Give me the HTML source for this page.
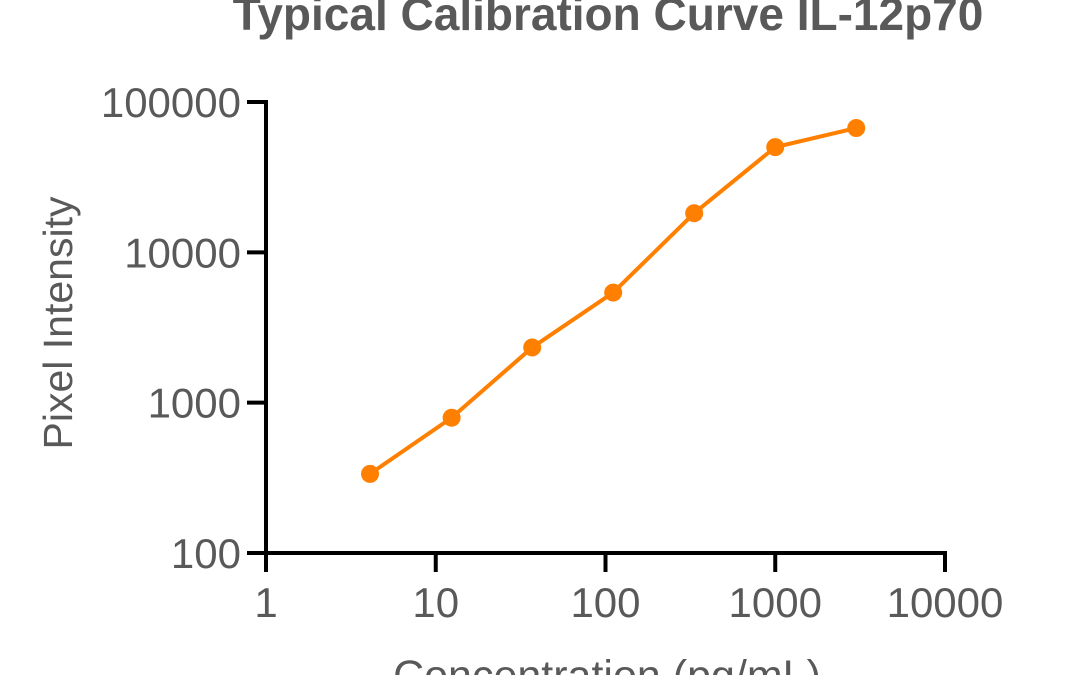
<!DOCTYPE html>
<html><head><meta charset="utf-8"><style>
body{margin:0;background:#fff;}
svg{display:block;font-family:"Liberation Sans",Arial,sans-serif;}
</style></head><body>
<svg id="chart" width="1080" height="675" viewBox="0 0 1080 675">
<text x="608" y="30" text-anchor="middle" font-size="46" font-weight="bold" fill="#595959">Typical Calibration Curve IL-12p70</text>
<text transform="translate(72,323) rotate(-90)" text-anchor="middle" font-size="41" fill="#595959">Pixel Intensity</text>
<text x="607" y="690" text-anchor="middle" font-size="43" fill="#595959">Concentration (pg/mL)</text>
<g id="axes"></g>
<g id="marks"></g>
</svg>
<script>
const concentrations=[4.1,12.4,37,111,333,1000,3000];
const intensities=[336,794,2330,5400,18200,50100,67100];
const xTickValues=[1,10,100,1000,10000];
const xTickLabels=["1","10","100","1000","10000"];
const yTickValues=[100,1000,10000,100000];
const yTickLabels=["100","1000","10000","100000"];
const NS="http://www.w3.org/2000/svg";
const X0=266,X1=945,Y0=553,Y1=102;
function xs(v){return X0+(Math.log10(v)-0)/4*(X1-X0);}
function ys(v){return Y0-(Math.log10(v)-2)/3*(Y0-Y1);}
function mk(t,a,p){const e=document.createElementNS(NS,t);for(const k in a)e.setAttribute(k,a[k]);p.appendChild(e);return e;}
const ax=document.getElementById('axes'),mg=document.getElementById('marks');
let l=mk('line',{x1:X0,y1:Y0,x2:X1+2,y2:Y0,stroke:'#000','stroke-width':4},ax);


l=mk('line',{x1:X0,y1:Y0+2,x2:X0,y2:Y1-2,stroke:'#000','stroke-width':4},ax);


xTickValues.forEach((v,i)=>{const x=xs(v);
 const t=mk('line',{x1:x,y1:Y0,x2:x,y2:Y0+19,stroke:'#000','stroke-width':4},ax);
 
 
 const tx=mk('text',{x:x,y:Y0+64,'text-anchor':'middle','font-size':42,fill:'#595959'},ax);tx.textContent=xTickLabels[i];
 
 });
yTickValues.forEach((v,i)=>{const y=ys(v);
 const t=mk('line',{x1:X0,y1:y,x2:X0-19,y2:y,stroke:'#000','stroke-width':4},ax);
 
 
 const tx=mk('text',{x:X0-25,y:y+15,'text-anchor':'end','font-size':42,fill:'#595959'},ax);tx.textContent=yTickLabels[i];
 
 });
const pts=concentrations.map((c,i)=>xs(c)+','+ys(intensities[i])).join(' ');
const pl=mk('polyline',{points:pts,fill:'none',stroke:'#ff8000','stroke-width':4,'stroke-linejoin':'round'},mg);


concentrations.forEach((c,i)=>{const p=mk('circle',{cx:xs(c),cy:ys(intensities[i]),r:9,fill:'#ff8000'},mg);
 
 });
</script>
</body></html>
